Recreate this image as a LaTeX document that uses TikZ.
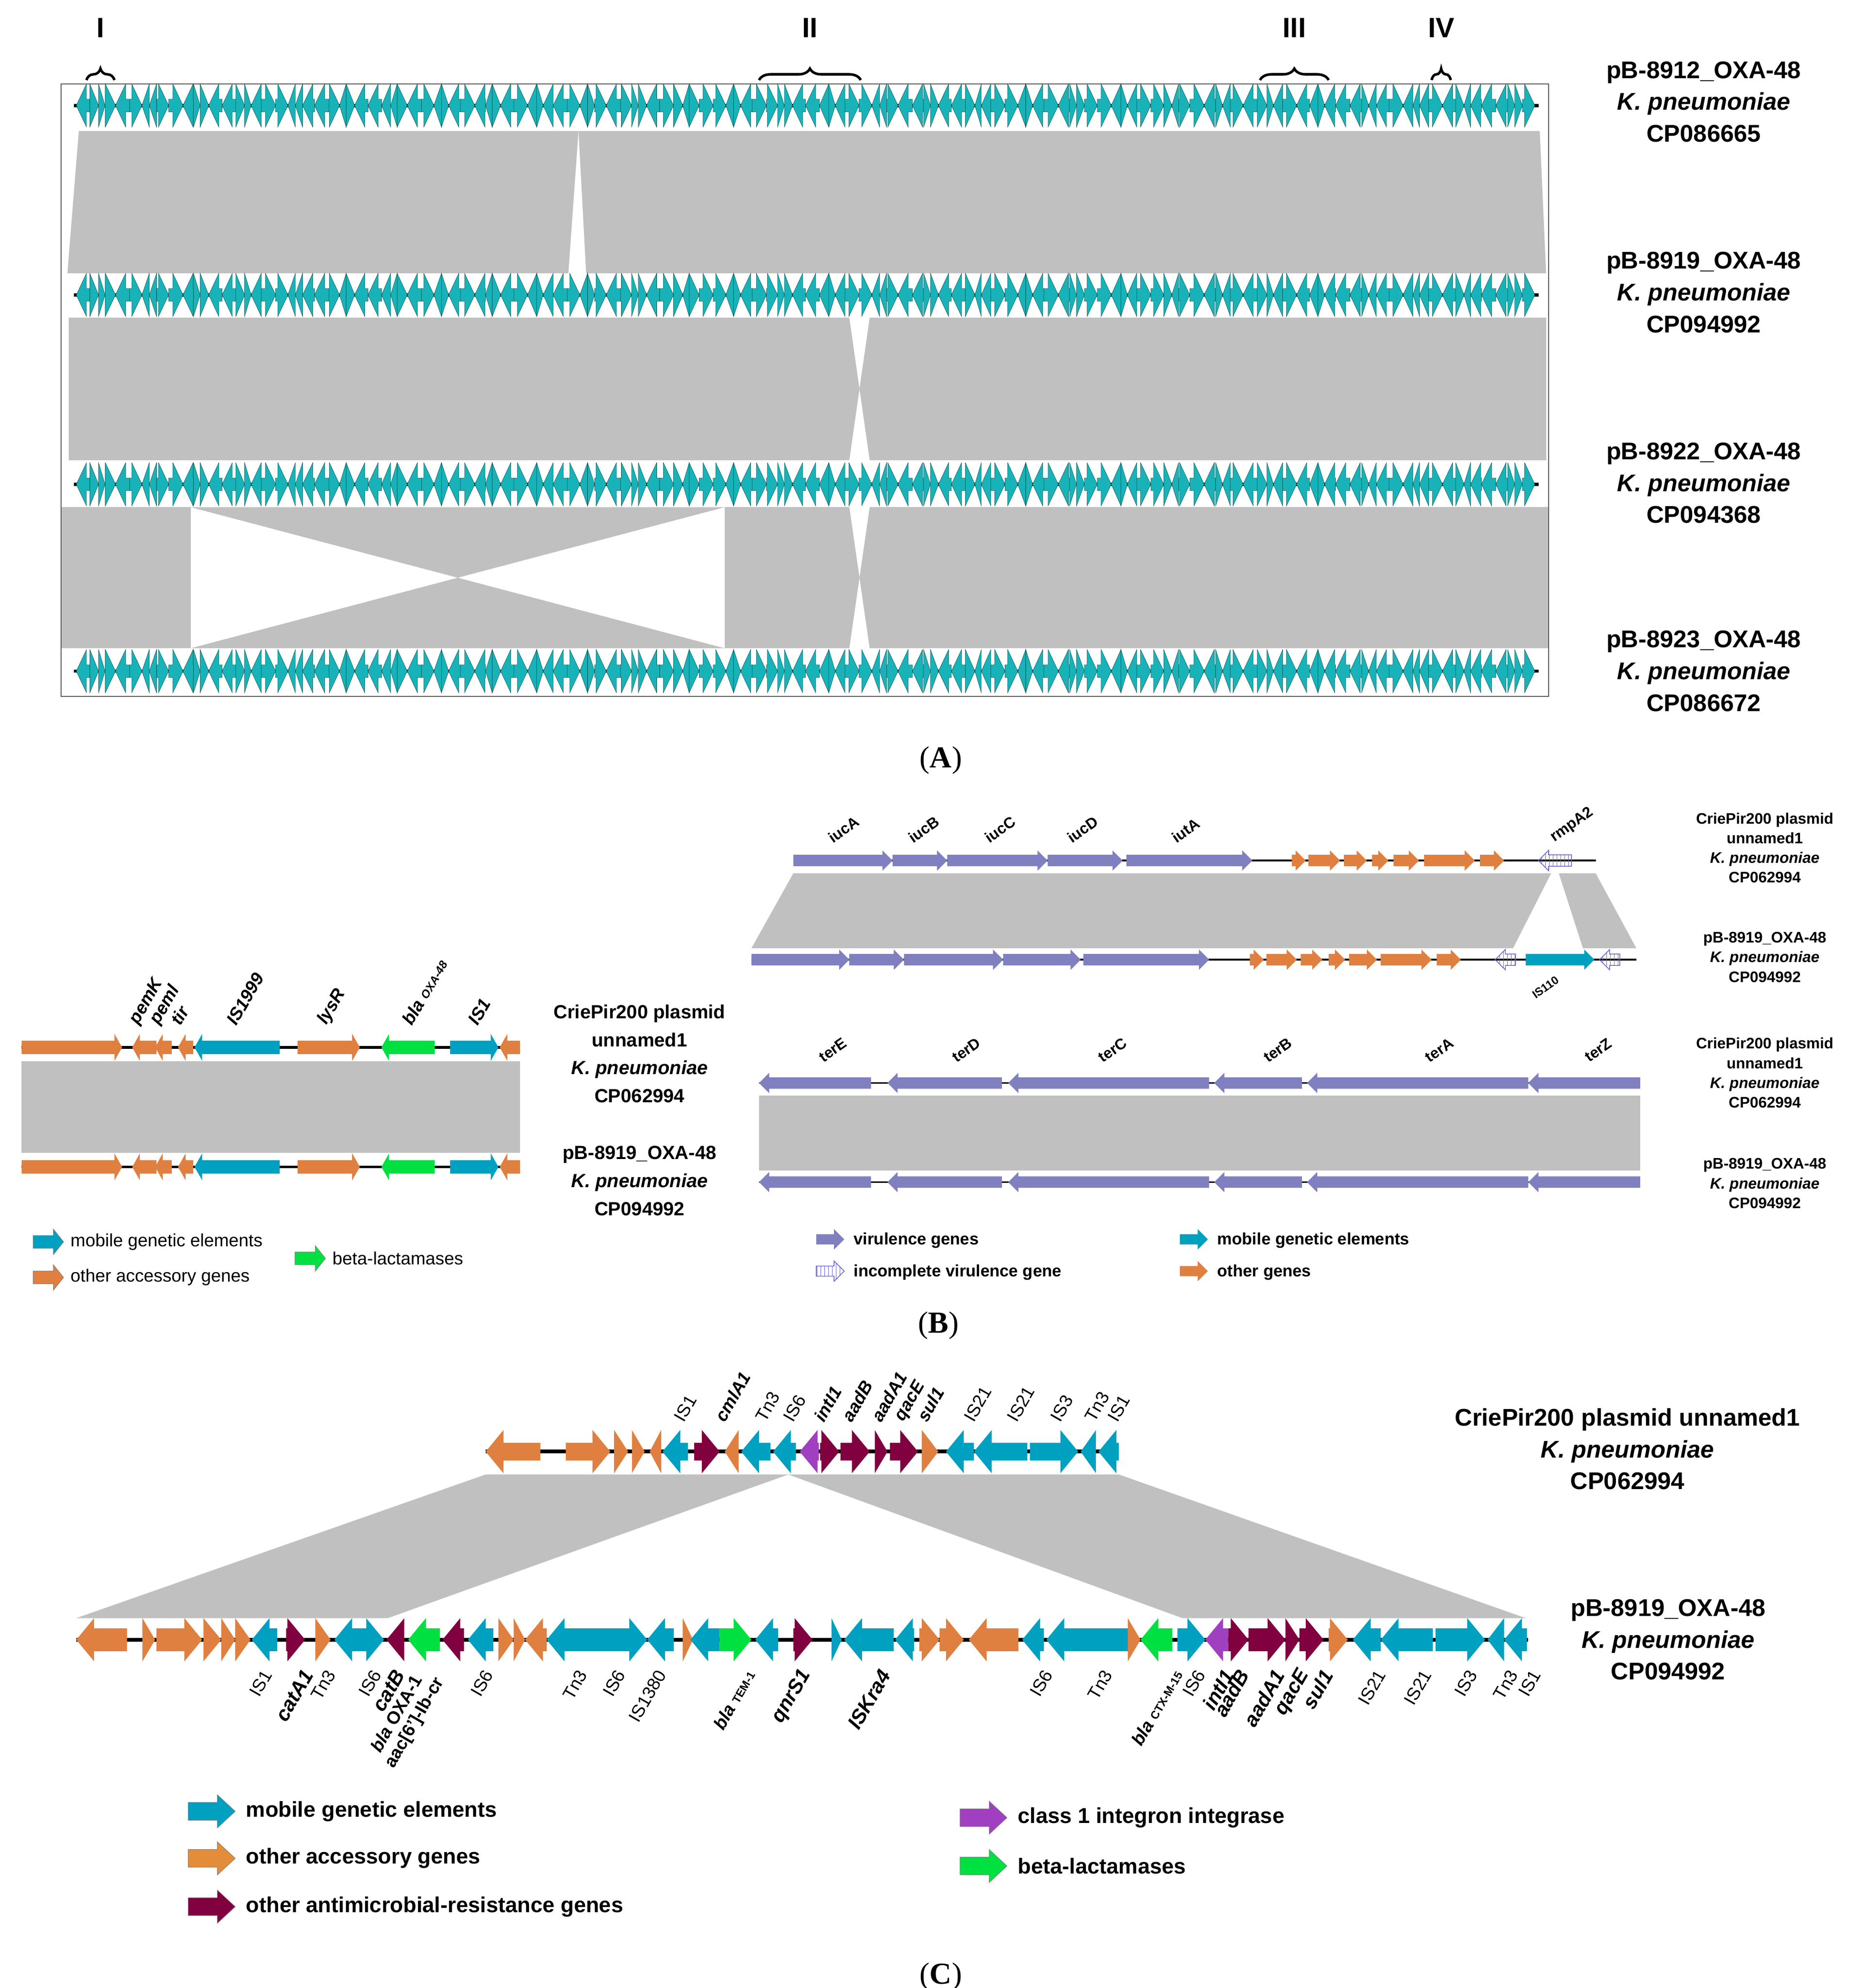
\documentclass[tikz,border=0pt]{standalone}
\usepackage{fontspec}
\setmainfont{Liberation Sans}
\newfontfamily\serif{Liberation Serif}
\usetikzlibrary{patterns,decorations.pathreplacing}
\definecolor{tealA}{HTML}{17B3B8}
\definecolor{tl}{HTML}{00A0C0}
\definecolor{og}{HTML}{E08040}
\definecolor{gn}{HTML}{00E040}
\definecolor{mr}{HTML}{800040}
\definecolor{pu}{HTML}{A040C0}
\definecolor{vir}{HTML}{8080C0}
\definecolor{gr}{HTML}{C0C0C0}
\def\HL{8}
% x1 x2 y dir color bodyhalf headhalf
\newcommand\garrow[7]{%
 \pgfmathsetmacro\glen{min(\HL,#2-#1)}%
 \ifnum#4=1
  \fill[#5] (#1,#3-#6) -- (#2-\glen,#3-#6) -- (#2-\glen,#3-#7) -- (#2,#3) -- (#2-\glen,#3+#7) -- (#2-\glen,#3+#6) -- (#1,#3+#6) -- cycle;
 \else
  \fill[#5] (#2,#3-#6) -- (#1+\glen,#3-#6) -- (#1+\glen,#3-#7) -- (#1,#3) -- (#1+\glen,#3+#7) -- (#1+\glen,#3+#6) -- (#2,#3+#6) -- cycle;
 \fi}
\newcommand\atrack[1]{%
 \draw[line width=2.5pt] (58,#1) -- (1210,#1);
 \foreach \k in {0,...,139}{%
  \pgfmathsetmacro\xa{60+\k*8.2+2.5*sin(\k*77)}%
  \pgfmathsetmacro\xb{60+(\k+1)*8.2+2.5*sin((\k+1)*77)}%
  \pgfmathtruncatemacro\dir{mod(floor(\k/4+1.5*sin(\k*53)+2),2)}%
  \garrow{\xa}{\xb}{#1}{\dir}{fill=tealA,draw=tealA!35!black,line width=0.2pt}{5}{17}%
 }}
\tikzset{lab/.style={font=\bfseries\fontsize{19}{25}\selectfont,align=center},
 blab/.style={font=\bfseries\fontsize{15}{22}\selectfont,align=center},
 slab/.style={font=\bfseries\fontsize{12}{15.5}\selectfont,align=center},
 gl/.style={font=\bfseries\itshape\fontsize{14}{14}\selectfont},
 cl/.style={font=\fontsize{14}{14}\selectfont,rotate=60,anchor=east},
 cb/.style={font=\bfseries\itshape\fontsize{16}{16}\selectfont,rotate=60,anchor=east},
 pan/.style={font=\serif\fontsize{24}{24}\selectfont},
 hat/.style={pattern=vertical lines,pattern color=vir!80!blue,draw=vir!80!blue,line width=0.6pt}}
\begin{document}
\begin{tikzpicture}[x=1pt,y=-1pt]
\useasboundingbox[fill=white] (0,0) rectangle (1466,1564);
% ===== Panel A =====
\fill[gr] (62,103) -- (455,103) -- (447,215) -- (53,215) -- cycle;
\fill[gr] (455,103) -- (1211,103) -- (1216,215) -- (461,215) -- cycle;
\fill[gr] (54,250) -- (668,250) -- (668,362) -- (54,362) -- cycle;
\fill[gr] (668,250) -- (684,362) -- (684,250) -- (668,362) -- cycle;
\fill[gr] (684,250) -- (1216,250) -- (1216,362) -- (684,362) -- cycle;
\fill[gr] (48,399) -- (150,399) -- (150,510) -- (48,510) -- cycle;
\fill[gr] (150,399) -- (570,399) -- (150,510) -- (570,510) -- cycle;
\fill[gr] (570,399) -- (668,399) -- (668,510) -- (570,510) -- cycle;
\fill[gr] (668,399) -- (684,510) -- (684,399) -- (668,510) -- cycle;
\fill[gr] (684,399) -- (1218,399) -- (1218,510) -- (684,510) -- cycle;
\atrack{83}\atrack{232}\atrack{381}\atrack{528}
\draw[gray!70!black,line width=0.8pt] (48,66) rectangle (1218,548);
\foreach \pa/\pb/\tx [count=\i] in {68/90/I,597/677/II,991/1045/III,1126/1141/IV}{
 \draw[line width=2pt,decorate,decoration={brace,amplitude=9pt}] (\pa,63) -- (\pb,63);
 \node[font=\bfseries\fontsize{22}{22}\selectfont] (rn\i) at ({(\pa+\pb)/2},22) {\tx};}
\node[lab] (la1) at (1340,80) {pB-8912\_OXA-48\\\textit{K. pneumoniae}\\CP086665};
\node[lab] (la2) at (1340,230) {pB-8919\_OXA-48\\\textit{K. pneumoniae}\\CP094992};
\node[lab] (la3) at (1340,380) {pB-8922\_OXA-48\\\textit{K. pneumoniae}\\CP094368};
\node[lab] (la4) at (1340,528) {pB-8923\_OXA-48\\\textit{K. pneumoniae}\\CP086672};
\node[pan] (pA) at (740,598) {(\textbf{A})};
% ===== Panel B left =====
\fill[gr] (17,835) rectangle (409,907);
\def\HL{6}
\foreach \yy in {824,918}{
 \draw[line width=2pt] (17,\yy) -- (409,\yy);
 \garrow{17}{96}{\yy}{1}{og}{5.3}{10.6}
 \garrow{104}{123}{\yy}{0}{og}{5.3}{10.6}
 \garrow{122}{135}{\yy}{0}{og}{5.3}{10.6}
 \garrow{140}{152}{\yy}{0}{og}{5.3}{10.6}
 \garrow{153}{220}{\yy}{0}{tl}{5.3}{10.6}
 \garrow{234}{283}{\yy}{1}{og}{5.3}{10.6}
 \garrow{300}{342}{\yy}{0}{gn}{5.3}{10.6}
 \garrow{354}{392}{\yy}{1}{tl}{5.3}{10.6}
 \garrow{393}{409}{\yy}{0}{og}{5.3}{10.6}
}
\node[gl,rotate=60,anchor=west] (bl1) at (104,808) {pemK};
\node[gl,rotate=60,anchor=west] (bl2) at (120,808) {peml};
\node[gl,rotate=60,anchor=west] (bl3) at (136,808) {tir};
\node[gl,rotate=60,anchor=west] (bl4) at (180,808) {IS1999};
\node[gl,rotate=60,anchor=west] (bl5) at (252,808) {lysR};
\node[gl,rotate=60,anchor=west] (bl6) at (318,808) {bla {\fontsize{9}{9}\selectfont OXA-48}};
\node[gl,rotate=60,anchor=west] (bl7) at (370,808) {IS1};
\node[blab] (bt1) at (503,829) {CriePir200 plasmid\\unnamed1\\\textit{K. pneumoniae}\\CP062994};
\node[blab] (bt2) at (503,929) {pB-8919\_OXA-48\\\textit{K. pneumoniae}\\CP094992};
\def\HL{8}
\garrow{26}{50}{977}{1}{tl,draw=gray}{5}{10}
\garrow{26}{50}{1005}{1}{og,draw=gray}{5}{10}
\garrow{232}{256}{990}{1}{gn,draw=gray}{5}{10}
\node[font=\fontsize{14}{14}\selectfont,anchor=west] (lg1) at (52,977) {mobile genetic elements};
\node[font=\fontsize{14}{14}\selectfont,anchor=west] (lg2) at (52,1005) {other accessory genes};
\node[font=\fontsize{14}{14}\selectfont,anchor=west] (lg3) at (258,990) {beta-lactamases};
% ===== Panel B right =====
\fill[gr] (624,687) -- (1220,687) -- (1190,746) -- (591,746) -- cycle;
\fill[gr] (1226,687) -- (1255,687) -- (1287,746) -- (1245,746) -- cycle;
\draw[line width=1.3pt] (624,677) -- (1255,677);
\foreach \pa/\pb in {624/702,702/745,745/824,824/883,886/985} {\garrow{\pa}{\pb}{677}{1}{vir}{4.5}{8}}
\foreach \pa/\pb in {1016/1027,1029/1054,1057/1075,1079/1092,1096/1116,1120/1160,1164/1183} {\garrow{\pa}{\pb}{677}{1}{og}{4.5}{8}}
\garrow{1210}{1236}{677}{0}{hat}{4.5}{8}
\draw[line width=1.3pt] (591,755) -- (1287,755);
\foreach \pa/\pb in {591/668,668/711,711/789,789/850,852/951} {\garrow{\pa}{\pb}{755}{1}{vir}{4.5}{8}}
\foreach \pa/\pb in {983/994,996/1020,1023/1040,1045/1058,1061/1083,1086/1126,1130/1149} {\garrow{\pa}{\pb}{755}{1}{og}{4.5}{8}}
\garrow{1176}{1192}{755}{0}{hat}{4.5}{8}
\garrow{1200}{1254}{755}{1}{tl}{4.5}{8}
\garrow{1258}{1274}{755}{0}{hat}{4.5}{8}
\node[font=\bfseries\fontsize{12}{12}\selectfont,rotate=35,anchor=west] (iu1) at (650,662) {iucA};
\node[font=\bfseries\fontsize{12}{12}\selectfont,rotate=35,anchor=west] (iu2) at (713,662) {iucB};
\node[font=\bfseries\fontsize{12}{12}\selectfont,rotate=35,anchor=west] (iu3) at (773,662) {iucC};
\node[font=\bfseries\fontsize{12}{12}\selectfont,rotate=35,anchor=west] (iu4) at (838,662) {iucD};
\node[font=\bfseries\fontsize{12}{12}\selectfont,rotate=35,anchor=west] (iu5) at (920,662) {iutA};
\node[font=\bfseries\fontsize{12}{12}\selectfont,rotate=35,anchor=west] (iu6) at (1218,662) {rmpA2};
\node[font=\bfseries\fontsize{9}{9}\selectfont,rotate=35,anchor=east] (is110) at (1228,768) {IS110};
\fill[gr] (597,862) rectangle (1290,921);
\foreach \yy in {852,930}{
 \draw[line width=1.3pt] (597,\yy) -- (1290,\yy);
 \foreach \pa/\pb in {597/685,698/788,793/951,955/1024,1028/1202,1202/1290} {\garrow{\pa}{\pb}{\yy}{0}{vir}{4.5}{8}}
}
\node[font=\bfseries\fontsize{12}{12}\selectfont,rotate=35] (te1) at (655,826) {terE};
\node[font=\bfseries\fontsize{12}{12}\selectfont,rotate=35] (te2) at (760,826) {terD};
\node[font=\bfseries\fontsize{12}{12}\selectfont,rotate=35] (te3) at (875,826) {terC};
\node[font=\bfseries\fontsize{12}{12}\selectfont,rotate=35] (te4) at (1005,826) {terB};
\node[font=\bfseries\fontsize{12}{12}\selectfont,rotate=35] (te5) at (1132,826) {terA};
\node[font=\bfseries\fontsize{12}{12}\selectfont,rotate=35] (te6) at (1257,826) {terZ};
\node[slab] (br1) at (1388,667) {CriePir200 plasmid\\unnamed1\\\textit{K. pneumoniae}\\CP062994};
\node[slab] (br2) at (1388,753) {pB-8919\_OXA-48\\\textit{K. pneumoniae}\\CP094992};
\node[slab] (br3) at (1388,844) {CriePir200 plasmid\\unnamed1\\\textit{K. pneumoniae}\\CP062994};
\node[slab] (br4) at (1388,931) {pB-8919\_OXA-48\\\textit{K. pneumoniae}\\CP094992};
\garrow{642}{664}{975}{1}{vir}{4}{8}
\garrow{642}{664}{1000}{1}{hat}{4}{8}
\garrow{928}{950}{975}{1}{tl}{4}{8}
\garrow{928}{950}{1000}{1}{og}{4}{8}
\node[font=\bfseries\fontsize{13}{13}\selectfont,anchor=west] (rl1) at (668,976) {virulence genes};
\node[font=\bfseries\fontsize{13}{13}\selectfont,anchor=west] (rl2) at (668,1001) {incomplete virulence gene};
\node[font=\bfseries\fontsize{13}{13}\selectfont,anchor=west] (rl3) at (954,976) {mobile genetic elements};
\node[font=\bfseries\fontsize{13}{13}\selectfont,anchor=west] (rl4) at (954,1001) {other genes};
\node[pan] (pB) at (738,1043) {(\textbf{B})};
% ===== Panel C =====
\fill[gr] (382,1160) -- (620,1160) -- (305,1273) -- (60,1273) -- cycle;
\fill[gr] (620,1160) -- (880,1160) -- (1200,1273) -- (930,1273) -- cycle;
\def\HL{14}
\draw[line width=3pt] (382,1142) -- (880,1142);
\foreach \pa/\pb/\dr/\cc in {382/425/0/og,445/480/1/og,483/494/1/og,497/507/1/og,511/520/0/og,521/541/0/tl,546/566/1/mr,570/581/0/og,583/606/0/tl,608/626/0/tl,629/644/0/pu,645/660/1/mr,661/684/1/mr,688/698/1/mr,700/722/1/mr,725/738/1/og,744/766/0/tl,766/808/0/tl,810/848/1/tl,850/862/0/tl,864/880/0/tl}
 {\garrow{\pa}{\pb}{1142}{\dr}{\cc}{7}{17}}
\node[font=\fontsize{14}{14}\selectfont,rotate=60,anchor=west] (ct1) at (532,1120) {IS1};
\node[font=\bfseries\itshape\fontsize{14}{14}\selectfont,rotate=60,anchor=west] (cg1) at (564,1120) {cmlA1};
\node[font=\fontsize{14}{14}\selectfont,rotate=60,anchor=west] (ct2) at (596,1120) {Tn3};
\node[font=\fontsize{14}{14}\selectfont,rotate=60,anchor=west] (ct3) at (618,1120) {IS6};
\node[font=\bfseries\itshape\fontsize{14}{14}\selectfont,rotate=60,anchor=west] (cg2) at (642,1120) {intI1};
\node[font=\bfseries\itshape\fontsize{14}{14}\selectfont,rotate=60,anchor=west] (cg3) at (664,1120) {aadB};
\node[font=\bfseries\itshape\fontsize{14}{14}\selectfont,rotate=60,anchor=west] (cg4) at (687,1120) {aadA1};
\node[font=\bfseries\itshape\fontsize{14}{14}\selectfont,rotate=60,anchor=west] (cg5) at (706,1120) {qacE};
\node[font=\bfseries\itshape\fontsize{14}{14}\selectfont,rotate=60,anchor=west] (cg6) at (723,1120) {sul1};
\node[font=\fontsize{14}{14}\selectfont,rotate=60,anchor=west] (ct4) at (760,1120) {IS21};
\node[font=\fontsize{14}{14}\selectfont,rotate=60,anchor=west] (ct5) at (794,1120) {IS21};
\node[font=\fontsize{14}{14}\selectfont,rotate=60,anchor=west] (ct6) at (828,1120) {IS3};
\node[font=\fontsize{14}{14}\selectfont,rotate=60,anchor=west] (ct7) at (855,1120) {Tn3};
\node[font=\fontsize{14}{14}\selectfont,rotate=60,anchor=west] (ct8) at (873,1120) {IS1};
\node[lab] (lc1) at (1280,1140) {CriePir200 plasmid unnamed1\\\textit{K. pneumoniae}\\CP062994};
\node[lab] (lc2) at (1312,1290) {pB-8919\_OXA-48\\\textit{K. pneumoniae}\\CP094992};
\draw[line width=3pt] (60,1290) -- (1202,1290);
\foreach \pa/\pb/\dr/\cc in {60/100/0/og,112/122/1/og,123/159/1/og,160/174/1/og,174/185/1/og,185/197/1/og,198/218/0/tl,225/240/1/mr,248/260/1/og,263/284/0/tl,284/302/1/tl,304/318/0/mr,321/346/0/gn,348/365/0/mr,368/388/0/tl,392/404/1/og,404/413/1/og,413/430/0/og,430/472/0/tl,472/509/1/tl,509/530/0/tl,537/545/1/og,543/566/0/tl,566/591/1/gn,594/612/0/tl,624/639/1/mr,654/662/1/tl,664/703/0/tl,704/719/0/tl,723/739/1/og,739/758/1/og,762/801/0/og,804/821/0/tl,823/887/0/tl,887/897/1/og,897/922/0/gn,926/948/1/tl,948/966/0/pu,966/982/1/mr,982/1011/1/mr,1011/1022/1/mr,1022/1041/1/mr,1045/1060/1/og,1064/1086/0/tl,1086/1127/0/tl,1129/1168/1/tl,1170/1183/0/tl,1183/1201/0/tl}
 {\garrow{\pa}{\pb}{1290}{\dr}{\cc}{9}{17}}
\foreach \pa/\tx [count=\i] in {212/IS1,262/Tn3,298/IS6,386/IS6,460/Tn3,490/IS6,522/IS1380,826/IS6,873/Tn3,946/IS6,1088/IS21,1124/IS21,1160/IS3,1192/Tn3,1210/IS1}
 {\node[cl] (cd\i) at (\pa,1312) {\tx};}
\foreach \pa/\tx [count=\i] in {244/catA1,316/catB,968/intI1,980/aadB,1008/aadA1,1028/qacE,1046/sul1,636/qnrS1,698/ISKra4}
 {\node[cb] (ce\i) at (\pa,1312) {\tx};}
\node[font=\bfseries\fontsize{14}{14}\selectfont,rotate=60,anchor=east] (cx1) at (330,1316) {\textit{bla} OXA-1};
\node[font=\bfseries\fontsize{14}{14}\selectfont,rotate=60,anchor=east] (cx2) at (348,1318) {aac[6']-Ib-cr};
\node[font=\bfseries\fontsize{14}{14}\selectfont,rotate=60,anchor=east] (cx3) at (592,1312) {\textit{bla} {\fontsize{9}{9}\selectfont TEM-1}};
\node[font=\bfseries\fontsize{14}{14}\selectfont,rotate=60,anchor=east] (cx4) at (928,1312) {\textit{bla} {\fontsize{9}{9}\selectfont CTX-M-15}};
\garrow{148}{185}{1425}{1}{tl,draw=gray}{7}{13}
\garrow{148}{185}{1462}{1}{og!90!yellow,draw=gray}{7}{13}
\garrow{148}{185}{1500}{1}{mr,draw=gray}{7}{13}
\garrow{755}{792}{1430}{1}{pu,draw=gray}{7}{13}
\garrow{755}{792}{1468}{1}{gn,draw=gray}{7}{13}
\node[font=\bfseries\fontsize{17}{17}\selectfont,anchor=west] (cl1) at (190,1425) {mobile genetic elements};
\node[font=\bfseries\fontsize{17}{17}\selectfont,anchor=west] (cl2) at (190,1462) {other accessory genes};
\node[font=\bfseries\fontsize{17}{17}\selectfont,anchor=west] (cl3) at (190,1500) {other antimicrobial-resistance genes};
\node[font=\bfseries\fontsize{17}{17}\selectfont,anchor=west] (cl4) at (797,1430) {class 1 integron integrase};
\node[font=\bfseries\fontsize{17}{17}\selectfont,anchor=west] (cl5) at (797,1468) {beta-lactamases};
\node[pan] (pC) at (740,1555) {(\textbf{C})};
\end{tikzpicture}
\end{document}
